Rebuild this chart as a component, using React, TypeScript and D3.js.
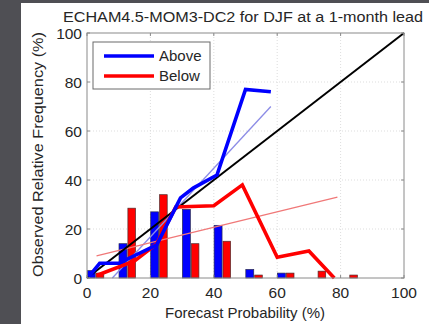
import React from "react";
import * as d3 from "d3";

const binStarts = [0, 10, 20, 30, 40, 50, 60, 70, 80];
const aboveCounts = [3, 14, 27, 28, 21.5, 3.5, 2, 0, 0];
const belowCounts = [2, 28.5, 34, 14, 15, 1.2, 2, 2.8, 1.2];

const aboveCurveX = [0.5, 4, 10, 22, 29.5, 33.5, 41, 50, 58];
const aboveCurveY = [0.5, 6, 6, 13.5, 32.7, 36.7, 42, 77, 76];
const belowCurveX = [3, 15, 22, 28, 40, 49, 60, 70, 78];
const belowCurveY = [1, 7, 14, 29, 29.5, 38, 8.5, 11, 0];

const aboveFitX = [8, 58];
const aboveFitY = [0, 70];
const belowFitX = [3, 79];
const belowFitY = [9, 33];

const ticks = [0, 20, 40, 60, 80, 100];
const gridTicks = [20, 40, 60, 80];
const legendLabels = ["Above", "Below"];

const W = 429;
const H = 324;
const FONT = "'Liberation Sans', Arial, sans-serif";

export default function App() {
  const x = d3.scaleLinear().domain([0, 100]).range([87, 404]);
  const y = d3.scaleLinear().domain([0, 100]).range([278, 33]);
  const line = d3
    .line<[number, number]>()
    .x((d) => x(d[0]))
    .y((d) => y(d[1]));
  const zip = (a: number[], b: number[]) => a.map((v, i) => [v, b[i]] as [number, number]);

  const blue = "#0000ff";
  const red = "#ff0000";

  return (
    <svg
      width={W}
      height={H}
      style={{ position: "fixed", left: 0, top: 0, background: "#fff" }}
    >
      <rect x={0} y={0} width={W} height={H} fill="#ffffff" />
      <rect x={0} y={0} width={21} height={H} fill="#4f4f54" />
      <rect x={0} y={0} width={W} height={3} fill="#4f4f54" />

      {/* grid */}
      {gridTicks.map((t) => (
        <g key={"g" + t}>
          <line x1={x(t)} x2={x(t)} y1={y(0)} y2={y(100)} stroke="#d4d4d4" strokeWidth={0.8} strokeDasharray="1,2" />
          <line x1={x(0)} x2={x(100)} y1={y(t)} y2={y(t)} stroke="#d4d4d4" strokeWidth={0.8} strokeDasharray="1,2" />
        </g>
      ))}

      {/* bars */}
      {binStarts.map((b, i) =>
        aboveCounts[i] > 0 ? (
          <rect
            key={"a" + i}
            x={x(b + 0.1)}
            y={y(aboveCounts[i])}
            width={x(b + 2.6) - x(b + 0.1)}
            height={y(0) - y(aboveCounts[i])}
            fill={blue}
            stroke="#2a2a50"
            strokeWidth={0.7}
          />
        ) : null
      )}
      {binStarts.map((b, i) =>
        belowCounts[i] > 0 ? (
          <rect
            key={"b" + i}
            x={x(b + 2.9)}
            y={y(belowCounts[i])}
            width={x(b + 5.3) - x(b + 2.9)}
            height={y(0) - y(belowCounts[i])}
            fill={red}
            stroke="#502a2a"
            strokeWidth={0.7}
          />
        ) : null
      )}

      {/* fit lines */}
      <path d={line(zip(aboveFitX, aboveFitY)) || ""} fill="none" stroke="#8c8ce6" strokeWidth={1.3} />
      <path d={line(zip(belowFitX, belowFitY)) || ""} fill="none" stroke="#f07878" strokeWidth={1.3} />

      {/* diagonal */}
      <path d={line([[0, 0], [100, 100]]) || ""} fill="none" stroke="#000" strokeWidth={2} />

      {/* reliability curves */}
      <path d={line(zip(belowCurveX, belowCurveY)) || ""} fill="none" stroke={red} strokeWidth={3.6} strokeLinejoin="miter" />
      <path d={line(zip(aboveCurveX, aboveCurveY)) || ""} fill="none" stroke={blue} strokeWidth={3.6} strokeLinejoin="miter" />

      {/* axes box */}
      <rect x={x(0)} y={y(100)} width={x(100) - x(0)} height={y(0) - y(100)} fill="none" stroke="#8a8a8a" strokeWidth={1} />
      {ticks.map((t) => (
        <g key={"t" + t}>
          <line x1={x(t)} x2={x(t)} y1={y(0)} y2={y(0) - 3} stroke="#8a8a8a" />
          <line x1={x(t)} x2={x(t)} y1={y(100)} y2={y(100) + 3} stroke="#8a8a8a" />
          <line x1={x(0)} x2={x(0) + 3} y1={y(t)} y2={y(t)} stroke="#8a8a8a" />
          <line x1={x(100)} x2={x(100) - 3} y1={y(t)} y2={y(t)} stroke="#8a8a8a" />
          <text x={x(t)} y={y(0) + 20} textAnchor="middle" fontFamily={FONT} fontSize={15.5} fill="#262626">
            {t}
          </text>
          <text x={x(0) - 5} y={y(t) + 5.5} textAnchor="end" fontFamily={FONT} fontSize={15.5} fill="#262626">
            {t}
          </text>
        </g>
      ))}

      {/* legend */}
      <rect x={93} y={42} width={117} height={47} fill="#fff" stroke="#6a6a6a" strokeWidth={1} />
      {legendLabels.map((lab, i) => (
        <g key={lab}>
          <line x1={104} x2={154} y1={56 + i * 20} y2={56 + i * 20} stroke={i === 0 ? blue : red} strokeWidth={3.6} />
          <text x={159} y={61 + i * 20} fontFamily={FONT} fontSize={15} fill="#262626">
            {lab}
          </text>
        </g>
      ))}

      {/* title & labels */}
      <text x={243} y={22} textAnchor="middle" fontFamily={FONT} fontSize={14} fill="#262626" textLength={360} lengthAdjust="spacingAndGlyphs">
        ECHAM4.5-MOM3-DC2 for DJF at a 1-month lead
      </text>
      <text x={245} y={318} textAnchor="middle" fontFamily={FONT} fontSize={15} fill="#262626">
        Forecast Probability (%)
      </text>
      <text
        transform={`translate(43,${(y(0) + y(100)) / 2 - 1}) rotate(-90)`}
        textAnchor="middle"
        fontFamily={FONT}
        fontSize={15}
        fill="#262626"
        textLength={245}
        lengthAdjust="spacingAndGlyphs"
      >
        Observed Relative Frequency (%)
      </text>
    </svg>
  );
}
